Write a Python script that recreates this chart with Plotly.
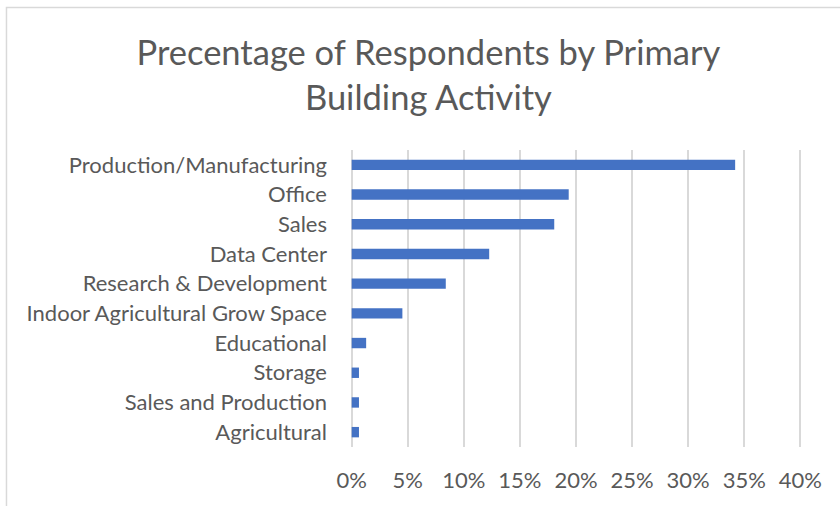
import plotly.graph_objects as go

# Share of survey respondents (n = 155) by primary building activity
activities = [
    "Production/Manufacturing",
    "Office",
    "Sales",
    "Data Center",
    "Research & Development",
    "Indoor Agricultural Grow Space",
    "Educational",
    "Storage",
    "Sales and Production",
    "Agricultural",
]
shares = [0.3419, 0.1935, 0.1806, 0.1226, 0.0839, 0.0452, 0.0129, 0.0065, 0.0065, 0.0065]
tick_values = [0, 0.05, 0.10, 0.15, 0.20, 0.25, 0.30, 0.35, 0.40]

TEXT = "#595959"
GRID = "#d9d9d9"
FONT = "Lato"

# a hair of padding so the 0% and 40% gridlines are not clipped at the edges
PAD = 0.0015

fig = go.Figure(
    go.Bar(
        x=shares,
        y=activities,
        orientation="h",
        marker=dict(color="#4472C4", line=dict(width=0)),
    )
)

fig.update_layout(
    width=840,
    height=506,
    margin=dict(l=350, r=38, t=150, b=59),
    paper_bgcolor="white",
    plot_bgcolor="white",
    bargap=0.65,
    showlegend=False,
    font=dict(family=FONT, color=TEXT),
    title=dict(
        text="Precentage of Respondents by Primary<br>Building Activity",
        x=0.51,
        xref="container",
        xanchor="center",
        y=0.872,
        yref="container",
        yanchor="bottom",
        font=dict(family=FONT, size=34.5, color=TEXT),
    ),
    shapes=[
        dict(
            type="rect",
            xref="paper",
            yref="paper",
            x0=-0.76,
            x1=1.3,
            y0=-0.4,
            y1=1.48,
            line=dict(color=GRID, width=1.5),
            fillcolor="rgba(0,0,0,0)",
            layer="below",
        )
    ],
)

fig.update_xaxes(
    range=[-PAD, 0.4 + PAD],
    tickvals=tick_values,
    tickformat=".0%",
    showgrid=True,
    gridcolor=GRID,
    gridwidth=1.5,
    zeroline=False,
    showline=False,
    ticks="",
    ticklabelstandoff=18,
    tickfont=dict(family=FONT, size=22, color=TEXT),
    fixedrange=True,
)
fig.update_yaxes(
    categoryorder="array",
    categoryarray=activities,
    autorange="reversed",
    showgrid=False,
    zeroline=False,
    showline=False,
    ticks="",
    ticklabelstandoff=22,
    tickfont=dict(family=FONT, size=22, color=TEXT),
    fixedrange=True,
)

fig.write_html("out.html")
